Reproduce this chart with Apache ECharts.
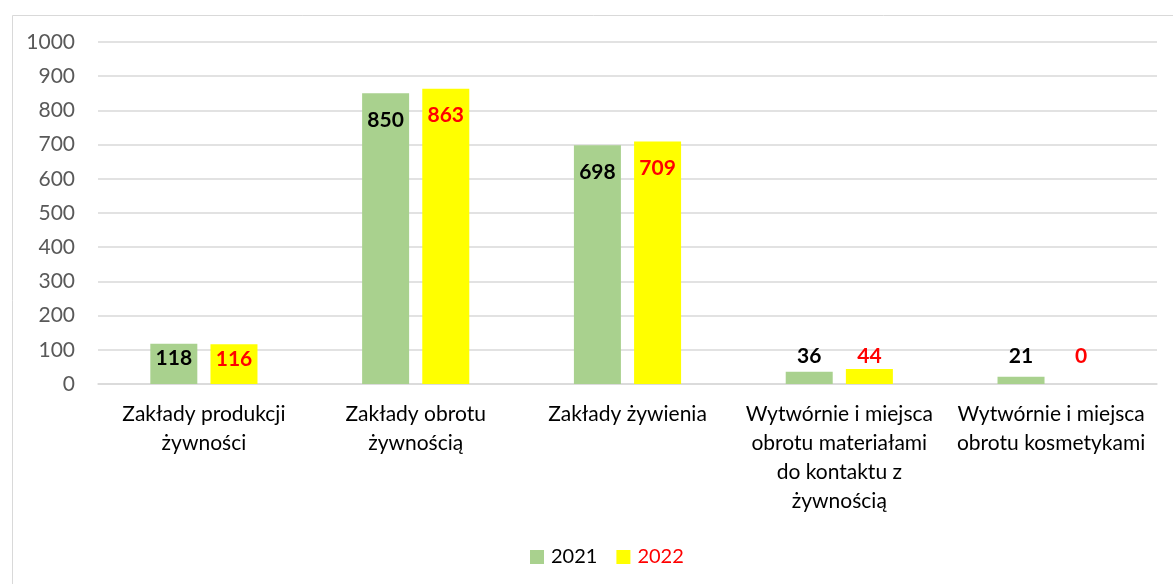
<!DOCTYPE html>
<html>
<head>
<meta charset="utf-8">
<script src="https://cdn.jsdelivr.net/npm/echarts@6/dist/echarts.min.js"></script>
<style>
html,body{margin:0;padding:0;background:#fff;}
#chart{width:1173px;height:584px;}
</style>
</head>
<body>
<div id="chart"></div>
<script>
const categories = [
  "Zakłady produkcji\nżywności",
  "Zakłady obrotu\nżywnością",
  "Zakłady żywienia",
  "Wytwórnie i miejsca\nobrotu materiałami\ndo kontaktu z\nżywnością",
  "Wytwórnie i miejsca\nobrotu kosmetykami"
];
const values2021 = [118, 850, 698, 36, 21];
const values2022 = [116, 863, 709, 44, 0];
const yTicks = [0, 100, 200, 300, 400, 500, 600, 700, 800, 900, 1000];

const FONT = 'Lato, "Open Sans", sans-serif';
const LABEL_SIZE = 21;
const gridTop = 42, gridBottom = 200;
const plotH = 584 - gridTop - gridBottom;
const pxPerUnit = plotH / 1000;

function labelFor(v, color) {
  const base = { show: true, color: color, fontWeight: 'bold', fontSize: LABEL_SIZE, fontFamily: FONT };
  const h = v * pxPerUnit;
  if (h > 100) return Object.assign(base, { position: 'insideTop', distance: 16 });
  if (h > 30) return Object.assign(base, { position: 'insideTop', distance: 4 });
  // outside labels aligned on a common line above small bars
  return Object.assign(base, { position: 'top', distance: Math.max(2, 27 - h - 10) });
}

function buildData(arr, color) {
  return arr.map(v => ({ value: v, label: labelFor(v, color) }));
}

const chart = echarts.init(document.getElementById('chart'));
chart.setOption({
  animation: false,
  backgroundColor: '#fff',
  graphic: [{
    type: 'rect', left: 10, top: 13,
    shape: { width: 1200, height: 600 },
    style: { fill: 'none', stroke: '#d9d9d9', lineWidth: 1 },
    silent: true
  }],
  grid: { left: 98, right: 16, top: gridTop, bottom: gridBottom, containLabel: false },
  legend: {
    top: 542,
    left: 525,
    itemWidth: 14, itemHeight: 14, itemGap: 19,
    icon: 'rect',
    textStyle: { fontSize: 20, fontFamily: FONT, padding: [0, 0, 0, 2] },
    data: [
      { name: '2021', textStyle: { color: '#000' } },
      { name: '2022', textStyle: { color: '#ff0000' } }
    ]
  },
  xAxis: {
    type: 'category',
    data: categories,
    axisLine: { lineStyle: { color: '#d9d9d9', width: 1.5 } },
    axisTick: { show: false },
    axisLabel: { color: '#000', fontSize: 21, fontFamily: FONT, lineHeight: 29, margin: 16, interval: 0 }
  },
  yAxis: {
    type: 'value',
    min: yTicks[0], max: yTicks[yTicks.length - 1], interval: yTicks[1] - yTicks[0],
    axisLine: { show: false },
    axisTick: { show: false },
    splitLine: { lineStyle: { color: '#d9d9d9', width: 1.5 } },
    axisLabel: { color: '#595959', fontSize: 21, fontFamily: FONT, margin: 23, formatter: v => String(v) }
  },
  series: [
    {
      name: '2021', type: 'bar', data: buildData(values2021, '#000'),
      itemStyle: { color: '#a9d18e' },
      barWidth: 47, barGap: '28%'
    },
    {
      name: '2022', type: 'bar', data: buildData(values2022, '#ff0000'),
      itemStyle: { color: '#ffff00' },
      barWidth: 47
    }
  ]
});
</script>
</body>
</html>
